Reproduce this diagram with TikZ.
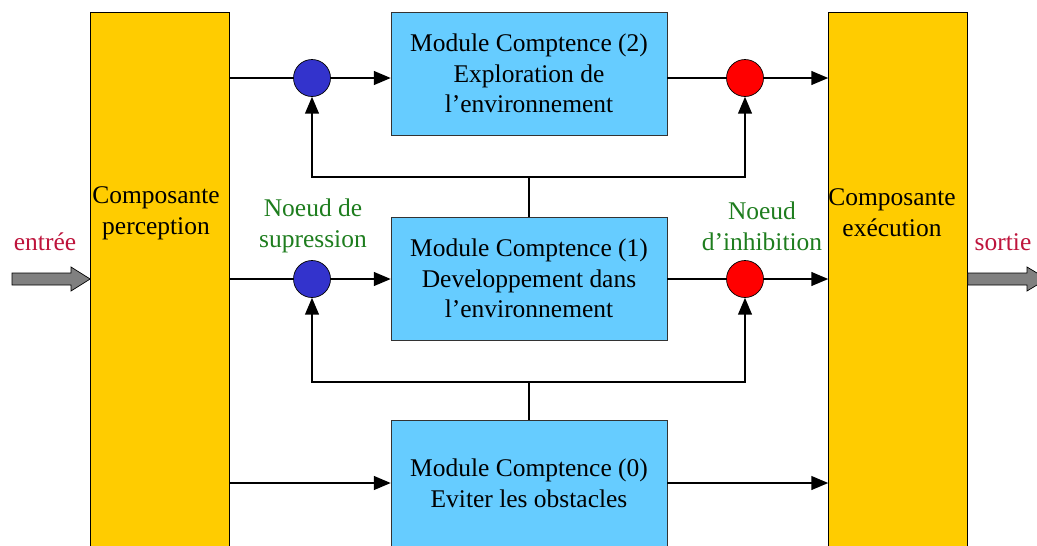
\documentclass[tikz,border=0pt]{standalone}
\usepackage{fontspec}
\setmainfont{Liberation Serif}
\usetikzlibrary{positioning,arrows}
\definecolor{jaune}{RGB}{255,204,0}
\definecolor{bleuciel}{RGB}{102,204,255}
\definecolor{bleunoeud}{RGB}{51,51,204}
\definecolor{vertlabel}{RGB}{30,125,30}
\definecolor{rougelabel}{RGB}{190,20,60}
\tikzset {
    style A/.style={
        fill=jaune,
        draw=black,
        thin,
        rectangle, % Set the shape as a rectangle
        minimum width=2.78cm,
        minimum height=10.8cm,
    },
    style B/.style={
        fill=bleuciel,
        draw=black!80,
        thin,
        rectangle, % Set the shape as a rectangle
        minimum width=5.52cm,
        minimum height=2.46cm,
        align=center,
    },
    style C/.style={
        fill=bleunoeud,
        draw=black,
        thin,
        circle,
        minimum size=7.4mm,
        inner sep=0pt,
    },
    style D/.style={
        fill=red,
        draw=black,
        thin,
        circle,
        minimum size=7.4mm,
        inner sep=0pt,
    },
    style E/.style={
        draw=none,
        text=vertlabel,
        align=center,
    },
    style F/.style={
        draw=none,
        text=rougelabel,
    },
}

\begin{document}
\begin{tikzpicture}
[x=0.02cm, y=-0.02cm, font=\fontsize{14.5}{17.5}\selectfont, >=triangle 45]
\useasboundingbox (0,0) rectangle (1037,545);

% composantes
\node[style A] at (160, 282) (perc) {};
\node[style A] at (898, 282) (exec) {};
\node[draw=none, align=center] at (156, 213) (percText) {Composante\\perception};
\node[draw=none, align=center] at (892, 213) (execText) {Composante\\exécution};

% modules
\node[style B] at (529, 73.5) (mod2) {Module Comptence (2)\\Exploration de\\l’environnement};
\node[style B] at (529, 278.5) (mod1) {Module Comptence (1)\\Developpement dans\\l’environnement};
\node[style B, minimum height=2.52cm] at (529, 483) (mod0) {Module Comptence (0)\\Eviter les obstacles};

% noeuds
\node[style C] at (312, 78) (sup2) {};
\node[style C] at (312, 279) (sup1) {};
\node[style D] at (745, 78) (inh2) {};
\node[style D] at (745, 279) (inh1) {};
\coordinate (fb2) at (529, 177);
\coordinate (fb1) at (529, 382);

% textes
\node[style E] at (313, 226) (supText) {Noeud de\\supression};
\node[style E] at (762, 226) (inhText) {Noeud\\d’inhibition};
\node[style F] at (45, 242) (entree) {entrée};
\node[style F] at (1003, 242) (sortie) {sortie};

% entree / sortie
\draw[thin, fill=gray] (12, 273) -- (71, 273) -- (71, 267) -- (perc.west |- 0, 279) -- (71, 291) -- (71, 285) -- (12, 285) -- cycle;
\draw[thin, fill=gray] (exec.east |- 0, 273) -- (1027, 273) -- (1027, 267) -- (1047, 279) -- (1027, 291) -- (1027, 285) -- (exec.east |- 0, 285) -- cycle;

\draw[very thick] (perc.east |- sup2) -- (sup2);
\draw[very thick, ->] (sup2) -- (mod2.west |- sup2);
\draw[very thick] (mod2.east |- inh2) -- (inh2);
\draw[very thick, ->] (inh2) -- (exec.west |- inh2);
\draw[very thick] (perc.east |- sup1) -- (sup1);
\draw[very thick, ->] (sup1) -- (mod1.west |- sup1);
\draw[very thick] (mod1.east |- inh1) -- (inh1);
\draw[very thick, ->] (inh1) -- (exec.west |- inh1);
\draw[very thick, ->] (perc.east |- mod0) -- (mod0);
\draw[very thick, ->] (mod0) -- (exec.west |- mod0);

\draw[very thick, ->] (mod1.north) -- (fb2) -| (sup2);
\draw[very thick, ->] (fb2) -| (inh2);
\draw[very thick, ->] (mod0.north) -- (fb1) -| (sup1);
\draw[very thick, ->] (fb1) -| (inh1);
\end{tikzpicture}
\end{document}
